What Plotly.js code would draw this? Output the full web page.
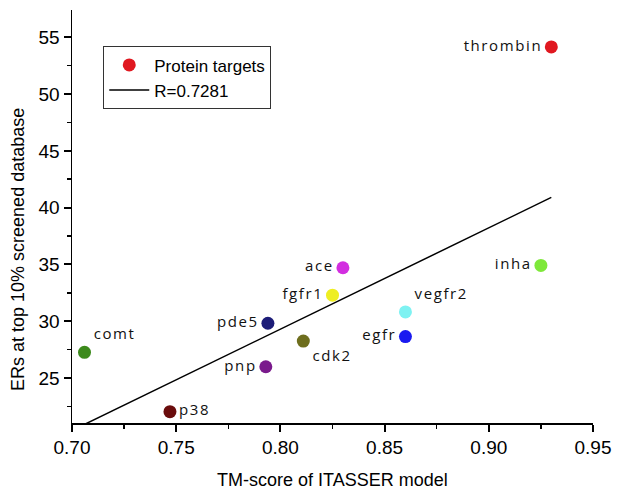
<!DOCTYPE html>
<html><head><meta charset="utf-8">
<script src="https://cdn.plot.ly/plotly-3.0.1.min.js"></script>
<style>
html,body{margin:0;padding:0;background:#fff;}
.textpoint text{letter-spacing:1.6px;}
</style></head>
<body><div id="chart" style="width:621px;height:497px;"></div>
<script>
var names = ["thrombin","comt","p38","pde5","pnp","cdk2","ace","fgfr1","vegfr2","egfr","inha"];
var tmScore = [0.930,0.706,0.747,0.794,0.793,0.811,0.830,0.825,0.860,0.860,0.925];
var erValues = [54.15,27.26,22.04,29.82,25.99,28.25,34.71,32.29,30.82,28.65,34.91];
var pointColors = ["#e01820","#3c8a1c","#6a0c0c","#1c1c78","#7a1a8c","#6e6e1e","#d22ee0","#eeee22","#7ef2f2","#1a1af0","#7ee83a"];
var labelPositions = ["middle left","top right","middle right","middle left","middle left","bottom right","middle left","middle left","top right","middle left","middle left"];
var fitX = [0.7058, 0.930];
var fitY = [20.9, 40.9];

var scatter = {
  x: tmScore, y: erValues, text: names, name: "Protein targets",
  type: "scatter", mode: "markers+text", textposition: labelPositions,
  textfont: {family: "Open Sans, sans-serif", size: 15, color: "#111"},
  marker: {size: 13, color: pointColors, line: {width: 0}},
  cliponaxis: false
};
var fit = {
  x: fitX, y: fitY, name: "R=0.7281", type: "scatter", mode: "lines",
  line: {color: "#000", width: 1.5}
};
var layout = {
  width: 621, height: 497,
  margin: {l: 72, r: 28, t: 10, b: 74},
  paper_bgcolor: "#fff", plot_bgcolor: "#fff",
  showlegend: true,
  legend: {x: 0.06, y: 0.912, xanchor: "left", yanchor: "top",
    bordercolor: "#333", borderwidth: 1, bgcolor: "#fff",
    font: {family: "Liberation Sans, Arial, sans-serif", size: 17, color: "#000"},
    tracegroupgap: 0, itemwidth: 40},
  xaxis: {range: [0.70, 0.95], tickmode: "linear", tick0: 0.70, dtick: 0.05, tickformat: ".2f",
    showgrid: false, zeroline: false, showline: true, linecolor: "#000", linewidth: 1.5,
    ticks: "outside", ticklen: 7, tickwidth: 2, tickcolor: "#000",
    tickfont: {family: "Liberation Sans, Arial, sans-serif", size: 19, color: "#000"},
    minor: {dtick: 0.025, ticks: "outside", ticklen: 4, tickwidth: 1.5, tickcolor: "#000"}
  },
  yaxis: {range: [21.04, 57.4], tickmode: "linear", tick0: 25, dtick: 5,
    showgrid: false, zeroline: false, showline: true, linecolor: "#000", linewidth: 1.5,
    ticks: "outside", ticklen: 7, tickwidth: 2, tickcolor: "#000",
    tickfont: {family: "Liberation Sans, Arial, sans-serif", size: 19, color: "#000"},
    minor: {dtick: 2.5, ticks: "outside", ticklen: 4, tickwidth: 1.5, tickcolor: "#000"}
  },
  annotations: [
    {text: "TM-score of ITASSER model", xref: "paper", yref: "paper", x: 0.5, y: -0.138,
     xanchor: "center", yanchor: "middle", showarrow: false,
     font: {family: "Liberation Sans, Arial, sans-serif", size: 18, color: "#000"}},
    {text: "ERs at top 10% screened database", xref: "paper", yref: "paper", x: -0.1036, y: 0.419,
     xanchor: "center", yanchor: "middle", showarrow: false, textangle: -90,
     font: {family: "Liberation Sans, Arial, sans-serif", size: 18, color: "#000"}}
  ]
};
Plotly.newPlot("chart", [scatter, fit], layout, {staticPlot: true});
</script></body></html>
